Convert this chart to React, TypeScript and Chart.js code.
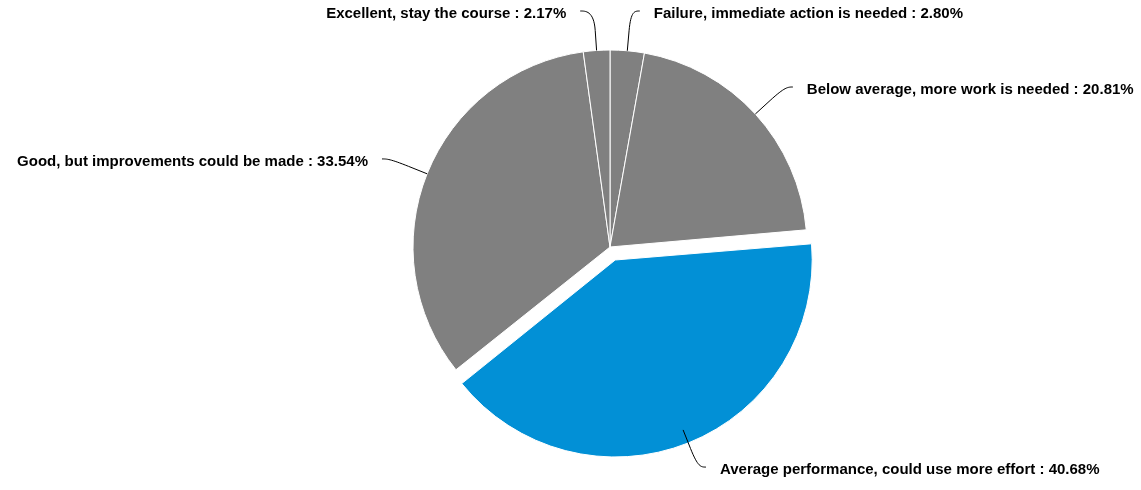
import React, { useEffect, useRef } from "react";
import { Chart, registerables } from "chart.js";

Chart.register(...registerables);

const categories = [
  "Failure, immediate action is needed",
  "Below average, more work is needed",
  "Average performance, could use more effort",
  "Good, but improvements could be made",
  "Excellent, stay the course",
];
const values = [2.8, 20.81, 40.68, 33.54, 2.17];
const valueLabels = ["2.80%", "20.81%", "40.68%", "33.54%", "2.17%"];
const colors = ["#808080", "#808080", "#0290d6", "#808080", "#808080"];
const slicedOut = [0, 0, 14, 0, 0];

const PIE_RADIUS = 197;

// Chart.js translates an offset arc by offset/4 and enlarges it by
// (offset/4)*(1-sin(circumference)); compensate so the sliced-out slice keeps the pie's radius.
const sliceFix = {
  id: "sliceFix",
  afterDatasetUpdate(chart: any, args: any) {
    const meta = chart.getDatasetMeta(args.index);
    meta.data.forEach((arc: any, i: number) => {
      if (slicedOut[i]) {
        const circ = arc.endAngle - arc.startAngle;
        const fix = 1 - Math.sin(Math.min(Math.PI, circ));
        arc.outerRadius = PIE_RADIUS - slicedOut[i] * fix;
      }
    });
  },
};

const labelPlugin = {
  id: "pieLabels",
  afterDatasetsDraw(chart: any) {
    const ctx = chart.ctx;
    const meta = chart.getDatasetMeta(0);
    const r = PIE_RADIUS;
    const LABEL_DIST = 40;
    ctx.save();
    ctx.font = 'bold 15px "Liberation Sans", Arial, sans-serif';
    ctx.fillStyle = "#000000";
    ctx.strokeStyle = "#000000";
    ctx.lineWidth = 1;
    meta.data.forEach((arc: any, i: number) => {
      const { x: cx, y: cy, startAngle, endAngle } = arc.getProps(
        ["x", "y", "startAngle", "endAngle"],
        true
      );
      const mid = (startAngle + endAngle) / 2;
      const cos = Math.cos(mid);
      const sin = Math.sin(mid);
      const R = r + LABEL_DIST;
      const side = cos >= 0 ? 1 : -1;
      let ly = cy + R * sin;
      ly = Math.max(11, Math.min(chart.height - 20, ly));
      const dy = ly - cy;
      const lx = cx + side * (Math.sqrt(Math.max(R * R - dy * dy, 0)) + 3);
      const touch = { x: cx + r * cos, y: cy + r * sin };
      const brk = { x: cx + (r + LABEL_DIST / 2) * cos, y: cy + (r + LABEL_DIST / 2) * sin };
      const sx = lx + side * 5;
      ctx.beginPath();
      ctx.moveTo(sx, ly);
      ctx.bezierCurveTo(lx, ly, 2 * brk.x - touch.x, 2 * brk.y - touch.y, brk.x, brk.y);
      ctx.lineTo(touch.x, touch.y);
      ctx.stroke();
      const text = categories[i] + " : " + valueLabels[i];
      ctx.textAlign = side > 0 ? "left" : "right";
      ctx.textBaseline = "middle";
      ctx.fillText(text, sx + side * 14, ly + 3);
    });
    ctx.restore();
  },
};

export default function App() {
  const canvasRef = useRef<HTMLCanvasElement | null>(null);
  useEffect(() => {
    if (!canvasRef.current) return;
    const chart = new Chart(canvasRef.current, {
      type: "pie",
      data: {
        labels: categories,
        datasets: [
          {
            data: values,
            backgroundColor: colors,
            borderColor: "#ffffff",
            borderWidth: 1,
            offset: slicedOut.map((v) => v * 4),
            hoverOffset: 0,
          },
        ],
      },
      options: {
        animation: false,
        responsive: false,
        maintainAspectRatio: false,
        radius: PIE_RADIUS,
        layout: { padding: { left: 79, right: 0, top: 4, bottom: 0 } },
        plugins: {
          legend: { display: false },
          tooltip: { enabled: false },
        },
      },
      plugins: [sliceFix, labelPlugin],
    });
    return () => chart.destroy();
  }, []);
  return (
    <div style={{ position: "absolute", left: 0, top: 0, width: 1141, height: 490, background: "#ffffff" }}>
      <canvas ref={canvasRef} width={1141} height={490} style={{ display: "block" }} />
    </div>
  );
}
